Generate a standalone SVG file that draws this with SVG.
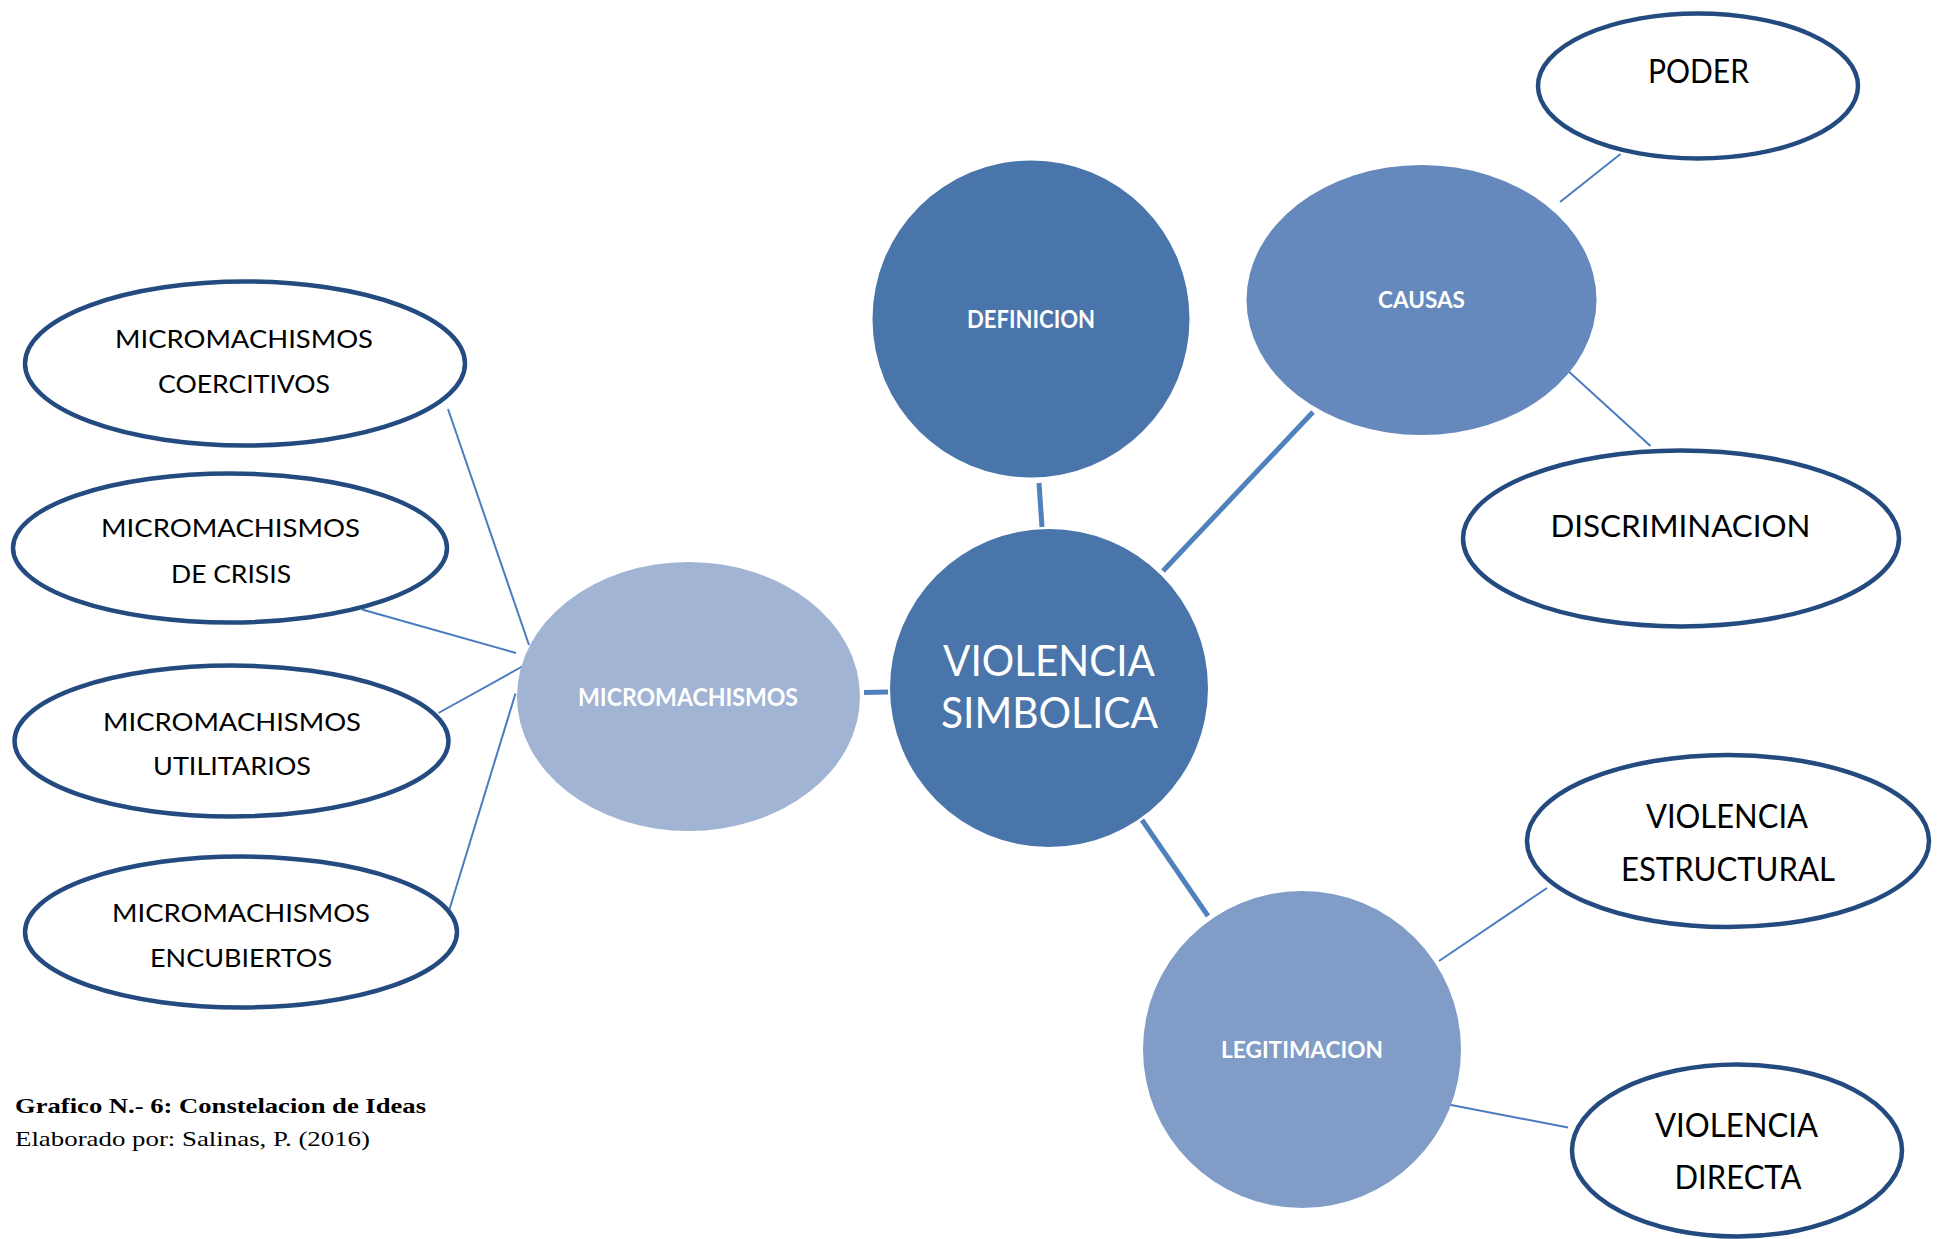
<svg xmlns="http://www.w3.org/2000/svg" width="1941" height="1239" viewBox="0 0 1941 1239">
<style>
.out{fill:#ffffff;stroke:#244B7F;stroke-width:4.5}
.lbl{font-family:Lato,"Liberation Sans",sans-serif;fill:#000000;text-anchor:middle}
.wl{font-family:Lato,"Liberation Sans",sans-serif;fill:#ffffff;text-anchor:middle;font-weight:bold}
.big{font-family:Lato,"Liberation Sans",sans-serif;fill:#ffffff;text-anchor:middle}
.thick{stroke:#4F81BD;stroke-width:5;fill:none}
.thin{stroke:#4A7CC0;stroke-width:2;fill:none}
.cap{font-family:"Liberation Serif",serif;fill:#000000}
</style>
<rect width="1941" height="1239" fill="#ffffff"/>
<g id="connectors">
<line class="thick" x1="1039" y1="483" x2="1042" y2="527"/>
<line class="thick" x1="1313" y1="412" x2="1163" y2="571"/>
<line class="thick" x1="864" y1="692.5" x2="888" y2="692"/>
<line class="thick" x1="1142" y1="820" x2="1208" y2="916"/>
<line class="thin" x1="1560" y1="202" x2="1620.5" y2="154"/>
<line class="thin" x1="1566" y1="369" x2="1650.5" y2="446"/>
<line class="thin" x1="1439" y1="961" x2="1547" y2="888"/>
<line class="thin" x1="1446" y1="1104" x2="1568" y2="1127.5"/>
<line class="thin" x1="448" y1="409" x2="529" y2="645"/>
<line class="thin" x1="362" y1="609.5" x2="516" y2="653"/>
<line class="thin" x1="438.5" y1="713" x2="524" y2="665.5"/>
<line class="thin" x1="444.5" y1="925.5" x2="515.5" y2="693.5"/>
</g>
<g id="definicion">
<circle cx="1031" cy="319" r="158.5" fill="#4A75AA"/>
<text class="wl" x="1031" y="328" font-size="24.5" textLength="128" lengthAdjust="spacingAndGlyphs">DEFINICION</text>
</g>
<g id="causas">
<ellipse cx="1421.5" cy="300" rx="175" ry="135" fill="#6589BC"/>
<text class="wl" x="1421.5" y="308" font-size="23" textLength="87" lengthAdjust="spacingAndGlyphs">CAUSAS</text>
</g>
<g id="violencia-simbolica">
<circle cx="1049" cy="688" r="159" fill="#4A75AA"/>
<text class="big" x="1049" y="676" font-size="42" textLength="212" lengthAdjust="spacingAndGlyphs">VIOLENCIA</text>
<text class="big" x="1049.5" y="728" font-size="42" textLength="217" lengthAdjust="spacingAndGlyphs">SIMBOLICA</text>
</g>
<g id="micromachismos">
<ellipse cx="688.5" cy="696.5" rx="171.5" ry="134.5" fill="#A2B4D4"/>
<text class="wl" x="688" y="705.5" font-size="24" textLength="220" lengthAdjust="spacingAndGlyphs">MICROMACHISMOS</text>
</g>
<g id="legitimacion">
<ellipse cx="1302" cy="1049.5" rx="159" ry="158.5" fill="#819DC7"/>
<text class="wl" x="1302" y="1058" font-size="23" textLength="162" lengthAdjust="spacingAndGlyphs">LEGITIMACION</text>
</g>
<g id="poder">
<ellipse class="out" cx="1698" cy="86" rx="160" ry="72.5"/>
<text class="lbl" x="1698.5" y="83" font-size="32" textLength="101" lengthAdjust="spacingAndGlyphs">PODER</text>
</g>
<g id="discriminacion">
<ellipse class="out" cx="1681" cy="538.5" rx="218" ry="88"/>
<text class="lbl" x="1680.5" y="537" font-size="31.5" textLength="260" lengthAdjust="spacingAndGlyphs">DISCRIMINACION</text>
</g>
<g id="violencia-estructural">
<ellipse class="out" cx="1728" cy="841" rx="201" ry="86"/>
<text class="lbl" x="1727" y="828" font-size="32" textLength="162" lengthAdjust="spacingAndGlyphs">VIOLENCIA</text>
<text class="lbl" x="1728" y="880.5" font-size="32" textLength="214" lengthAdjust="spacingAndGlyphs">ESTRUCTURAL</text>
</g>
<g id="violencia-directa">
<ellipse class="out" cx="1737" cy="1150.5" rx="165" ry="86"/>
<text class="lbl" x="1736.5" y="1136.5" font-size="32" textLength="163" lengthAdjust="spacingAndGlyphs">VIOLENCIA</text>
<text class="lbl" x="1738" y="1189" font-size="32" textLength="127" lengthAdjust="spacingAndGlyphs">DIRECTA</text>
</g>
<g id="mm-coercitivos">
<ellipse class="out" cx="245" cy="363.5" rx="220" ry="82"/>
<text class="lbl" x="244" y="348" font-size="25.5" textLength="258" lengthAdjust="spacingAndGlyphs">MICROMACHISMOS</text>
<text class="lbl" x="244" y="393" font-size="25.5" textLength="172" lengthAdjust="spacingAndGlyphs">COERCITIVOS</text>
</g>
<g id="mm-crisis">
<ellipse class="out" cx="230" cy="548" rx="217" ry="74.5"/>
<text class="lbl" x="230.5" y="537" font-size="25.5" textLength="259" lengthAdjust="spacingAndGlyphs">MICROMACHISMOS</text>
<text class="lbl" x="231" y="582.5" font-size="25.5" textLength="120" lengthAdjust="spacingAndGlyphs">DE CRISIS</text>
</g>
<g id="mm-utilitarios">
<ellipse class="out" cx="231.5" cy="741" rx="217" ry="75.5"/>
<text class="lbl" x="232" y="730.5" font-size="25.5" textLength="258" lengthAdjust="spacingAndGlyphs">MICROMACHISMOS</text>
<text class="lbl" x="232" y="775" font-size="25.5" textLength="158" lengthAdjust="spacingAndGlyphs">UTILITARIOS</text>
</g>
<g id="mm-encubiertos">
<ellipse class="out" cx="241" cy="932" rx="216" ry="75.5"/>
<text class="lbl" x="241" y="921.5" font-size="25.5" textLength="258" lengthAdjust="spacingAndGlyphs">MICROMACHISMOS</text>
<text class="lbl" x="241" y="967" font-size="25.5" textLength="182" lengthAdjust="spacingAndGlyphs">ENCUBIERTOS</text>
</g>
<g id="caption">
<text class="cap" x="15" y="1113" font-size="21.5" font-weight="bold" textLength="411" lengthAdjust="spacingAndGlyphs">Grafico N.- 6: Constelacion de Ideas</text>
<text class="cap" x="15" y="1146" font-size="21.5" textLength="355" lengthAdjust="spacingAndGlyphs">Elaborado por: Salinas, P. (2016)</text>
</g>
</svg>
